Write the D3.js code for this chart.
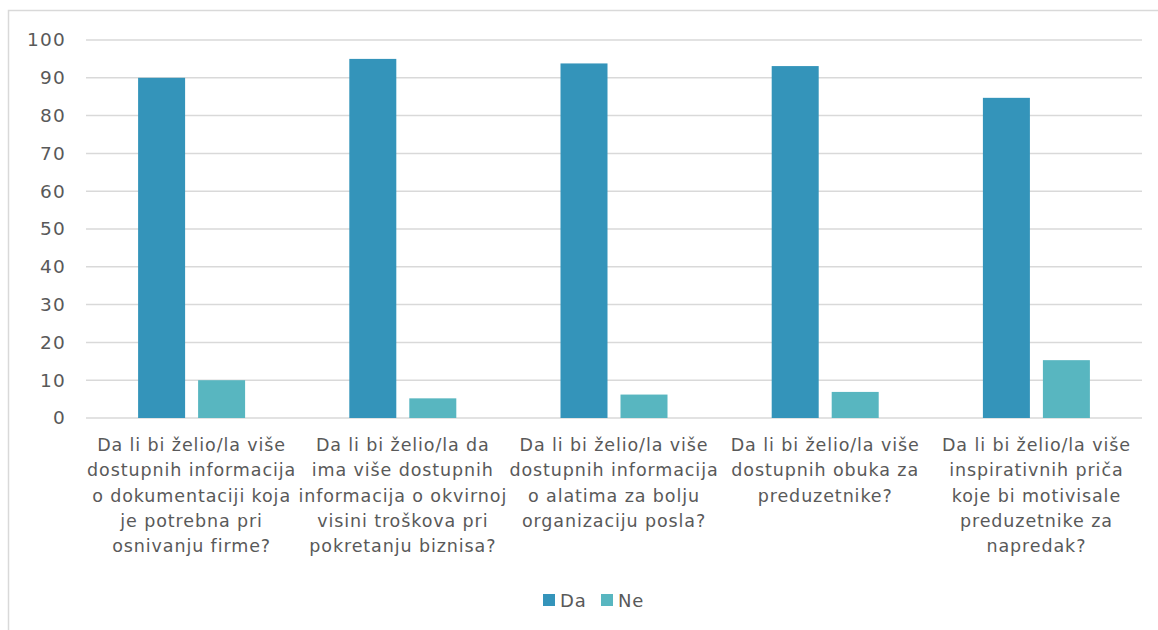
<!DOCTYPE html>
<html><head><meta charset="utf-8">
<script src="https://cdn.jsdelivr.net/npm/d3@7"></script>
<style>body{margin:0;background:#fff}svg{display:block}</style>
</head><body><svg id="c" width="1158" height="630"></svg>
<script>
const categories = [
  ["Da li bi želio/la više","dostupnih informacija","o dokumentaciji koja","je potrebna pri","osnivanju firme?"],
  ["Da li bi želio/la da","ima više dostupnih","informacija o okvirnoj","visini troškova pri","pokretanju biznisa?"],
  ["Da li bi želio/la više","dostupnih informacija","o alatima za bolju","organizaciju posla?"],
  ["Da li bi želio/la više","dostupnih obuka za","preduzetnike?"],
  ["Da li bi želio/la više","inspirativnih priča","koje bi motivisale","preduzetnike za","napredak?"]
];
const seriesNames = ["Da","Ne"];
const daValues = [90, 95, 93.8, 93.1, 84.7];
const neValues = [10, 5.2, 6.2, 6.9, 15.3];
const yTicks = [0,10,20,30,40,50,60,70,80,90,100];
const colors = ["#3494BA","#58B6C0"];

(function(){
const svg = d3.select("#c");
const font = "'DejaVu Sans', sans-serif";
const txt = "#595959";
svg.append("rect").attr("x",8.5).attr("y",10.5).attr("width",1160).attr("height",640)
  .attr("fill","#fff").attr("stroke","#d9d9d9").attr("stroke-width",1.5);

const pLeft=86, pRight=1142, pTop=40, pBottom=418;
const x = d3.scaleBand().domain(d3.range(categories.length)).range([pLeft,pRight]);
const y = d3.scaleLinear().domain([0,100]).range([pBottom,pTop]);
const barW = 47, gap = 13;

const grid = svg.append("g");
grid.selectAll("line").data(yTicks).join("line")
  .attr("x1",pLeft).attr("x2",pRight).attr("y1",d=>y(d)).attr("y2",d=>y(d))
  .attr("stroke","#d9d9d9").attr("stroke-width",1.5);

const yAxis = svg.append("g").attr("transform",`translate(${pLeft},0)`)
  .call(d3.axisLeft(y).tickValues(yTicks).tickSize(0).tickPadding(20));
yAxis.select(".domain").remove();
yAxis.selectAll("text").attr("font-family",font).attr("font-size",18.5).attr("letter-spacing",1.2).attr("fill",txt);

const series = [daValues, neValues];
series.forEach((vals,si)=>{
  svg.append("g").selectAll("rect").data(vals).join("rect")
    .attr("x",(d,i)=>x(i)+x.bandwidth()/2 + (si===0 ? -gap/2-barW : gap/2))
    .attr("width",barW)
    .attr("y",d=>y(d)).attr("height",d=>y(0)-y(d))
    .attr("fill",colors[si]);
});

const lab = svg.append("g");
categories.forEach((lines,i)=>{
  const t = lab.append("text").attr("x",x(i)+x.bandwidth()/2).attr("y",451)
    .attr("text-anchor","middle").attr("font-family",font).attr("font-size",17.5)
    .attr("letter-spacing",0.9).attr("fill",txt);
  lines.forEach((l,j)=>t.append("tspan").attr("x",x(i)+x.bandwidth()/2).attr("y",451+j*25.3).text(l));
});

const leg = svg.append("g");
const legX = [543, 601];
seriesNames.forEach((n,i)=>{
  leg.append("rect").attr("x",legX[i]).attr("y",594).attr("width",12).attr("height",12).attr("fill",colors[i]);
  leg.append("text").attr("x",legX[i]+17).attr("y",607).attr("font-family",font).attr("font-size",18).attr("letter-spacing",0.8).attr("fill",txt).text(n);
});
})();
</script></body></html>
